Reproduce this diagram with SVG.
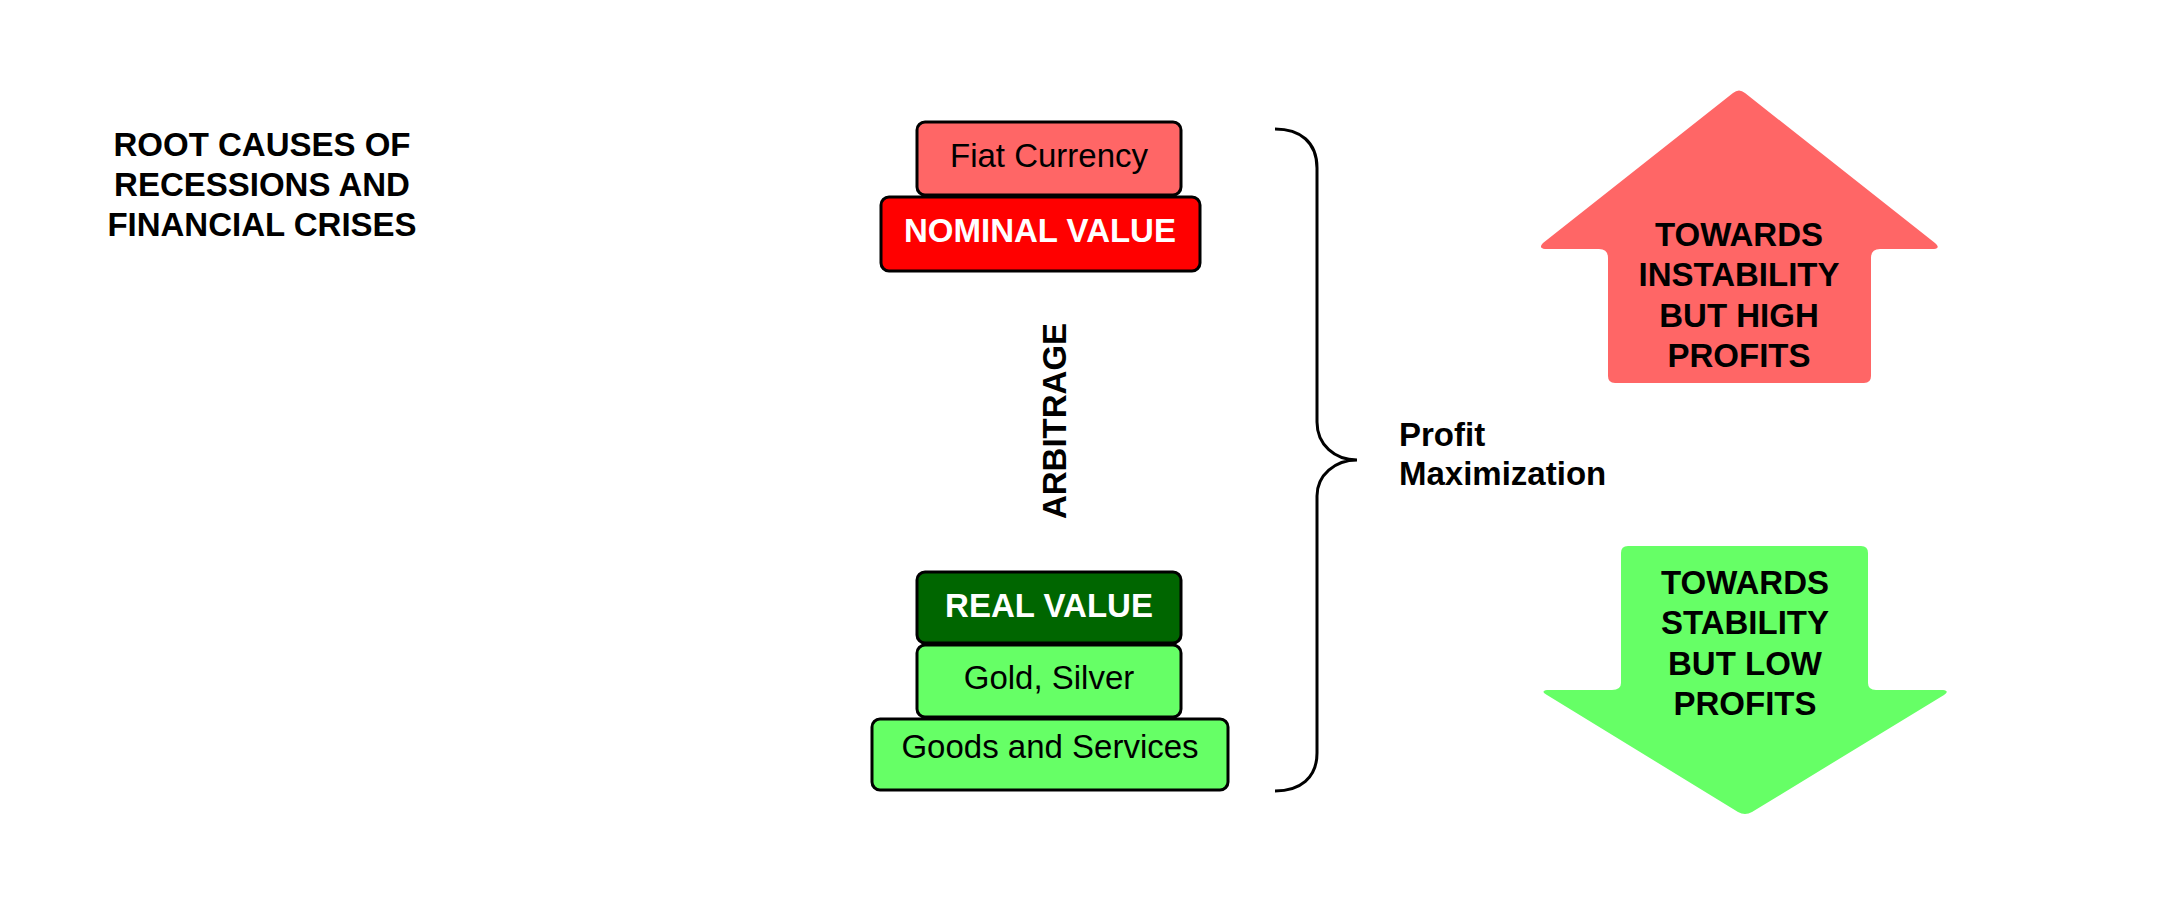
<svg xmlns="http://www.w3.org/2000/svg" width="2175" height="909" viewBox="0 0 2175 909">
<style>
.box{stroke:#000;stroke-width:3}
.t{font-family:"Liberation Sans",Arial,sans-serif;font-size:33px;text-anchor:middle}
.b{font-weight:bold}
.w{fill:#fff}
.k{fill:#000}
</style>
<rect width="2175" height="909" fill="#fff"/>
<g id="title">
<text class="t b k" x="262" y="156" font-size="32.5">ROOT CAUSES OF</text>
<text class="t b k" x="262" y="196" font-size="32.5">RECESSIONS AND</text>
<text class="t b k" x="262" y="236" font-size="32.5">FINANCIAL CRISES</text>
</g>
<g id="fiat">
<rect class="box" x="917" y="122" width="264" height="73" rx="8" fill="#FF6666"/>
<text class="t k" x="1049" y="167">Fiat Currency</text>
</g>
<g id="nominal">
<rect class="box" x="881" y="197" width="319" height="74" rx="8" fill="#FF0000"/>
<text class="t b w" x="1040" y="242">NOMINAL VALUE</text>
</g>
<g id="arbitrage">
<text class="t b k" transform="translate(1066,421) rotate(-90)">ARBITRAGE</text>
</g>
<g id="real">
<rect class="box" x="917" y="572" width="264" height="71" rx="8" fill="#006600"/>
<text class="t b w" x="1049" y="617">REAL VALUE</text>
</g>
<g id="gold">
<rect class="box" x="917" y="645" width="264" height="72" rx="8" fill="#66FF66"/>
<text class="t k" x="1049" y="689">Gold, Silver</text>
</g>
<g id="goods">
<rect class="box" x="872" y="719" width="356" height="71" rx="8" fill="#66FF66"/>
<text class="t k" x="1050" y="758">Goods and Services</text>
</g>
<g id="connectors">
<path d="M1275,129 C1300,129 1317,142 1317,168 L1317,422 C1317,445 1335,460 1357,460 C1335,460 1317,475 1317,496 L1317,753 C1317,778 1300,791 1275,791" fill="none" stroke="#000" stroke-width="3"/>
</g>
<g id="profit">
<text class="t b k" x="1399" y="446" style="text-anchor:start">Profit</text>
<text class="t b k" x="1399" y="485" style="text-anchor:start">Maximization</text>
</g>
<g id="up-arrow">
<path d="M1733,93 Q1739,88 1745,93 L1935,243 Q1941,248 1934,249 L1880,249 Q1871,249 1871,258 L1871,376 Q1871,383 1864,383 L1615,383 Q1608,383 1608,376 L1608,258 Q1608,249 1599,249 L1545,249 Q1538,248 1543,243 Z" fill="#FF6666"/>
<text class="t b k" x="1739" y="246">TOWARDS</text>
<text class="t b k" x="1739" y="286">INSTABILITY</text>
<text class="t b k" x="1739" y="327">BUT HIGH</text>
<text class="t b k" x="1739" y="367">PROFITS</text>
</g>
<g id="down-arrow">
<path d="M1628,546 L1861,546 Q1868,546 1868,553 L1868,683 Q1868,690 1876,690 L1943,690 Q1950,691 1944,695 L1752,812 Q1745,816 1738,812 L1547,695 Q1540,691 1547,690 L1612,690 Q1621,690 1621,683 L1621,553 Q1621,546 1628,546 Z" fill="#66FF66"/>
<text class="t b k" x="1745" y="594">TOWARDS</text>
<text class="t b k" x="1745" y="634">STABILITY</text>
<text class="t b k" x="1745" y="675">BUT LOW</text>
<text class="t b k" x="1745" y="715">PROFITS</text>
</g>
</svg>
